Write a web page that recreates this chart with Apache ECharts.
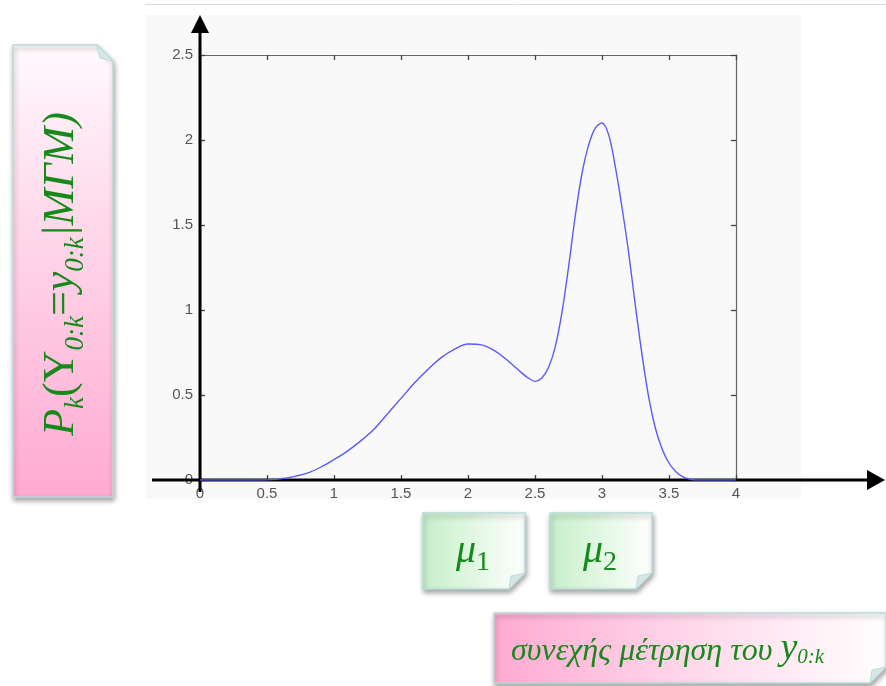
<!DOCTYPE html>
<html><head><meta charset="utf-8">
<script src="https://cdn.jsdelivr.net/npm/echarts@6/dist/echarts.min.js"></script>
<style>html,body{margin:0;padding:0;background:#fff}#c{width:886px;height:686px}</style>
</head><body><div id="c"></div>
<script>
// ---- data ----
const xValues = [0, 0.1, 0.2, 0.3, 0.4, 0.5, 0.6, 0.7, 0.8, 0.9, 1.0, 1.1, 1.2, 1.3, 1.4, 1.5, 1.6, 1.7, 1.8, 1.9, 2.0, 2.1, 2.2, 2.3, 2.4, 2.45, 2.5, 2.55, 2.6, 2.65, 2.7, 2.75, 2.8, 2.85, 2.9, 2.95, 3.0, 3.05, 3.1, 3.15, 3.2, 3.25, 3.3, 3.35, 3.4, 3.45, 3.5, 3.55, 3.6, 3.65, 3.7, 3.8, 3.9, 4.0];
const yValues = [0, 0, 0, 0, 0, 0.001, 0.007, 0.02, 0.04, 0.075, 0.12, 0.17, 0.23, 0.30, 0.39, 0.48, 0.57, 0.65, 0.72, 0.77, 0.80, 0.795, 0.76, 0.70, 0.63, 0.60, 0.58, 0.60, 0.66, 0.78, 0.98, 1.25, 1.55, 1.80, 1.97, 2.07, 2.10, 2.03, 1.84, 1.60, 1.33, 1.02, 0.73, 0.48, 0.30, 0.18, 0.10, 0.05, 0.02, 0.006, 0, 0, 0, 0];
const xTickLabels = ['0', '0.5', '1', '1.5', '2', '2.5', '3', '3.5', '4'];
const yTickLabels = ['0', '0.5', '1', '1.5', '2', '2.5'];
const yAxisTitle = ['P', 'k', '(Υ', '0:k', '=', 'y', '0:k', '|MΓM)'];
const xAxisTitle = ['συνεχής μέτρηση του ', 'y', '0:k'];
const markers = [['μ', '1'], ['μ', '2']];

const GREEN = '#17891a';
const chart = echarts.init(document.getElementById('c'), null, {renderer: 'canvas'});

const labelFont = {color: '#555', fontSize: 15, fontFamily: 'Liberation Sans'};
function xAx(pos, show) {
  return {
    type: 'value', position: pos, min: 0, max: 4, interval: 0.5,
    axisLine: {show: true, onZero: false, lineStyle: {color: '#666', width: 1.2}},
    axisTick: {show: true, inside: true, length: 5, lineStyle: {color: '#444', width: 1.3}},
    axisLabel: Object.assign({show: show, margin: 6,
      formatter: (v) => xTickLabels[Math.round(v / 0.5)]}, labelFont),
    splitLine: {show: false}
  };
}
function yAx(pos, show) {
  return {
    type: 'value', position: pos, min: 0, max: 2.5, interval: 0.5,
    axisLine: {show: true, onZero: false, lineStyle: {color: '#666', width: 1.2}},
    axisTick: {show: true, inside: true, length: 5, lineStyle: {color: '#444', width: 1.3}},
    axisLabel: Object.assign({show: show, margin: 7,
      formatter: (v) => yTickLabels[Math.round(v / 0.5)]}, labelFont),
    splitLine: {show: false}
  };
}

const option = {
  animation: false,
  backgroundColor: '#ffffff',
  grid: {left: 200, top: 55, width: 536, height: 425, containLabel: false},
  xAxis: [xAx('bottom', true), xAx('top', false)],
  yAxis: [yAx('left', true), yAx('right', false)],
  series: [{
    type: 'line', xAxisIndex: 0, yAxisIndex: 0, z: 10,
    data: xValues.map((x, i) => [x, yValues[i]]),
    smooth: 0.35, showSymbol: false, symbol: 'none',
    lineStyle: {color: '#5a5aff', width: 1.4}
  }]
};
chart.setOption(option);

const o = chart.convertToPixel({xAxisIndex: 0, yAxisIndex: 0}, [0, 0]);
const ox = o[0], oy = o[1];

function dogEarBox(x, y, w, h, corner, grad, fold) {
  const f = 16;
  let pts, tri;
  if (corner === 'tr') {
    pts = [[x, y], [x + w - f, y], [x + w, y + f], [x + w, y + h], [x, y + h]];
    tri = [[x + w - f, y], [x + w - f + 3, y + f - 3], [x + w, y + f]];
  } else {
    pts = [[x, y], [x + w, y], [x + w, y + h - f], [x + w - f, y + h], [x, y + h]];
    tri = [[x + w, y + h - f], [x + w - f + 2, y + h - f + 3], [x + w - f, y + h]];
  }
  return [
    {type: 'polygon', z: 1, shape: {points: pts},
      style: {fill: grad, stroke: '#b9dcdc', lineWidth: 1.5,
        shadowBlur: 5, shadowOffsetX: 1, shadowOffsetY: 3, shadowColor: 'rgba(0,0,0,0.35)'}},
    {type: 'polygon', z: 2, shape: {points: tri},
      style: {fill: fold, stroke: '#b9dcdc', lineWidth: 1}}
  ];
}
const serif = 'Liberation Serif';
// main glyphs top-aligned, subscripts bottom-aligned in a taller line
function mainSub(Fm, Fs, drop, italicSub) {
  const H = Math.round(0.85 * Fm + drop + 0.2 * Fs);
  return {
    a: {fontSize: Fm, fontStyle: 'italic', fontFamily: serif, fill: GREEN, lineHeight: Fm, verticalAlign: 'top'},
    u: {fontSize: Fm, fontFamily: serif, fill: GREEN, lineHeight: Fm, verticalAlign: 'top'},
    s: {fontSize: Fs, fontStyle: italicSub ? 'italic' : 'normal', fontFamily: serif, fill: GREEN, lineHeight: H, verticalAlign: 'bottom'}
  };
}

const LG = echarts.graphic.LinearGradient;
const gfx = [
  {type: 'line', z: -20, shape: {x1: 145, y1: 4.5, x2: 886, y2: 4.5}, style: {stroke: '#dcdcdc', lineWidth: 1}},
  {type: 'rect', z: -20, shape: {x: 146, y: 15, width: 655, height: 484}, style: {fill: '#f9f9fa'}},
  {type: 'line', z: 5, shape: {x1: 152, y1: oy, x2: 869, y2: oy}, style: {stroke: '#000', lineWidth: 3}},
  {type: 'polygon', z: 5, shape: {points: [[867, oy - 10], [885, oy], [867, oy + 10]]}, style: {fill: '#000'}},
  {type: 'line', z: 5, shape: {x1: ox, y1: 492, x2: ox, y2: 30}, style: {stroke: '#000', lineWidth: 3}},
  {type: 'polygon', z: 5, shape: {points: [[ox - 9, 33], [ox, 15], [ox + 9, 33]]}, style: {fill: '#000'}},
];
gfx.push(...dogEarBox(13, 45, 100, 452, 'tr',
  new LG(0, 0, 0, 1, [{offset: 0, color: '#fffafd'}, {offset: 0.35, color: '#ffdcec'}, {offset: 1, color: '#ffaad2'}]), '#d6e6e6'));
gfx.push({
  type: 'text', z: 3, x: 64, y: 274, rotation: Math.PI / 2,
  style: {
    text: '{a|' + yAxisTitle[0] + '}{s|' + yAxisTitle[1] + '}{u|' + yAxisTitle[2] + '}{s|' + yAxisTitle[3] + '}{u|' + yAxisTitle[4] + '}{a|' + yAxisTitle[5] + '}{s|' + yAxisTitle[6] + '}{a|' + yAxisTitle[7] + '}',
    align: 'center', verticalAlign: 'middle', fill: GREEN,
    rich: mainSub(44, 27, 7, true)
  }
});
const muBoxes = [[423, 513], [550, 513]];
muBoxes.forEach((b, i) => {
  gfx.push(...dogEarBox(b[0], b[1], 102, 76, 'br',
    new LG(0, 0, 1, 0, [{offset: 0, color: '#c6f0c8'}, {offset: 0.5, color: '#e2f7e3'}, {offset: 1, color: '#ffffff'}]), '#d6e6e6'));
  gfx.push({
    type: 'text', z: 3, x: b[0] + 50, y: b[1] + 41,
    style: {
      text: '{a|' + markers[i][0] + '}{s|' + markers[i][1] + '}',
      align: 'center', verticalAlign: 'middle', fill: GREEN,
      rich: mainSub(40, 28, 6, false)
    }
  });
});
gfx.push(...dogEarBox(494, 613, 392, 70, 'br',
  new LG(0, 0, 1, 0, [{offset: 0, color: '#ffaad2'}, {offset: 0.55, color: '#ffdcec'}, {offset: 1, color: '#ffffff'}]), '#d6e6e6'));
const bt = mainSub(32, 21, 4, true);
bt.a.lineHeight = 38; bt.a.verticalAlign = 'bottom';
bt.y = {fontSize: 38, fontStyle: 'italic', fontFamily: serif, fill: GREEN, lineHeight: 38, verticalAlign: 'bottom'};
bt.s.lineHeight = 32; bt.s.verticalAlign = 'bottom';
gfx.push({
  type: 'text', z: 3, x: 511, y: 649,
  style: {
    text: '{a|' + xAxisTitle[0] + '}{y|' + xAxisTitle[1] + '}{s|' + xAxisTitle[2] + '}',
    align: 'left', verticalAlign: 'middle', fill: GREEN,
    rich: bt
  }
});
chart.setOption({graphic: {elements: gfx}});
</script></body></html>
